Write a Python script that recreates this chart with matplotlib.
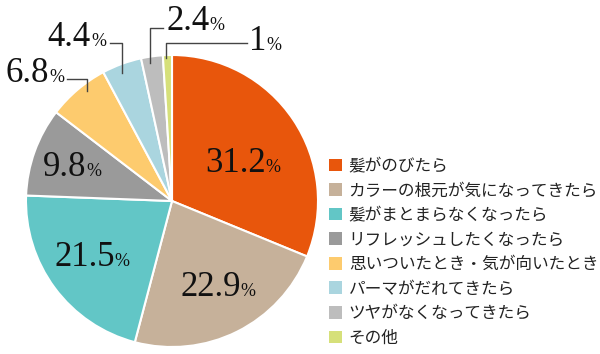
import matplotlib.pyplot as plt
from matplotlib.offsetbox import TextArea, HPacker, AnnotationBbox
from matplotlib.patches import Patch

plt.rcParams['font.family'] = ['Noto Sans CJK JP', 'DejaVu Sans']

labels = ["髪がのびたら", "カラーの根元が気になってきたら", "髪がまとまらなくなったら",
          "リフレッシュしたくなったら", "思いついたとき・気が向いたとき",
          "パーマがだれてきたら", "ツヤがなくなってきたら", "その他"]
values = [31.2, 22.9, 21.5, 9.8, 6.8, 4.4, 2.4, 1]
value_text = ["31.2", "22.9", "21.5", "9.8", "6.8", "4.4", "2.4", "1"]
colors = ["#E8560C", "#C6B19A", "#62C6C6", "#9A9A9A", "#FDCB6E",
          "#AAD5DF", "#BDBDBD", "#D6E07A"]

W, H = 600, 354
CX, CY, R = 172, 201, 146


def px(x, y):
    # pixel position -> pie data coords
    return (x - CX) / R, (CY - y) / R


fig = plt.figure(figsize=(6, 3.54), dpi=100)
ax = fig.add_axes([(CX - R) / W, (H - CY - R) / H, 2 * R / W, 2 * R / H])
ax.pie(values, colors=colors, startangle=90, counterclock=False,
       wedgeprops=dict(edgecolor="white", linewidth=1.5))
ax.set_xlim(-1, 1)
ax.set_ylim(-1, 1)
ax.set_aspect("auto")
ax.axis("off")

# label anchor (pixel), box alignment
label_pos = [((243, 163), (0.5, 0.5)), ((218, 288), (0.5, 0.5)),
             ((92, 258), (0.5, 0.5)), ((72, 168), (0.5, 0.5)),
             ((64, 74), (1.0, 0.5)), ((106, 38), (1.0, 0.5)),
             ((166, 22), (0.0, 0.5)), ((249, 41), (0.0, 0.5))]

serif = ["Liberation Serif", "DejaVu Serif"]
for txt, (pos, align) in zip(value_text, label_pos):
    big = TextArea(txt, textprops=dict(fontsize=25, family=serif, color="#111111"))
    small = TextArea("%", textprops=dict(fontsize=13, family=serif, color="#111111"))
    box = HPacker(children=[big, small], align="baseline", pad=0, sep=0)
    ab = AnnotationBbox(box, px(*pos), box_alignment=align, frameon=False,
                        pad=0, xycoords="data", annotation_clip=False)
    ax.add_artist(ab)

# leader lines: (start x, y, elbow x, end y) in pixels
leaders = [(67, 79, 87, 91), (110, 43, 122, 73), (163, 28, 150, 63), (247, 43, 166, 58)]
for x0, y0, x1, y1 in leaders:
    p0, p1, p2 = px(x0, y0), px(x1, y0), px(x1, y1)
    ax.plot([p0[0], p1[0], p2[0]], [p0[1], p1[1], p2[1]], color="#444444",
            linewidth=1, clip_on=False)

handles = [Patch(facecolor=c, edgecolor="none") for c in colors]
fig.legend(handles, labels, loc="upper left", bbox_to_anchor=(322 / W, 1 - 151 / H),
           frameon=False, fontsize=12, handlelength=0.8, handleheight=0.8,
           handletextpad=0.4, labelspacing=0.455, borderaxespad=0,
           labelcolor="#222222")

fig.savefig("out.png", dpi=100)
